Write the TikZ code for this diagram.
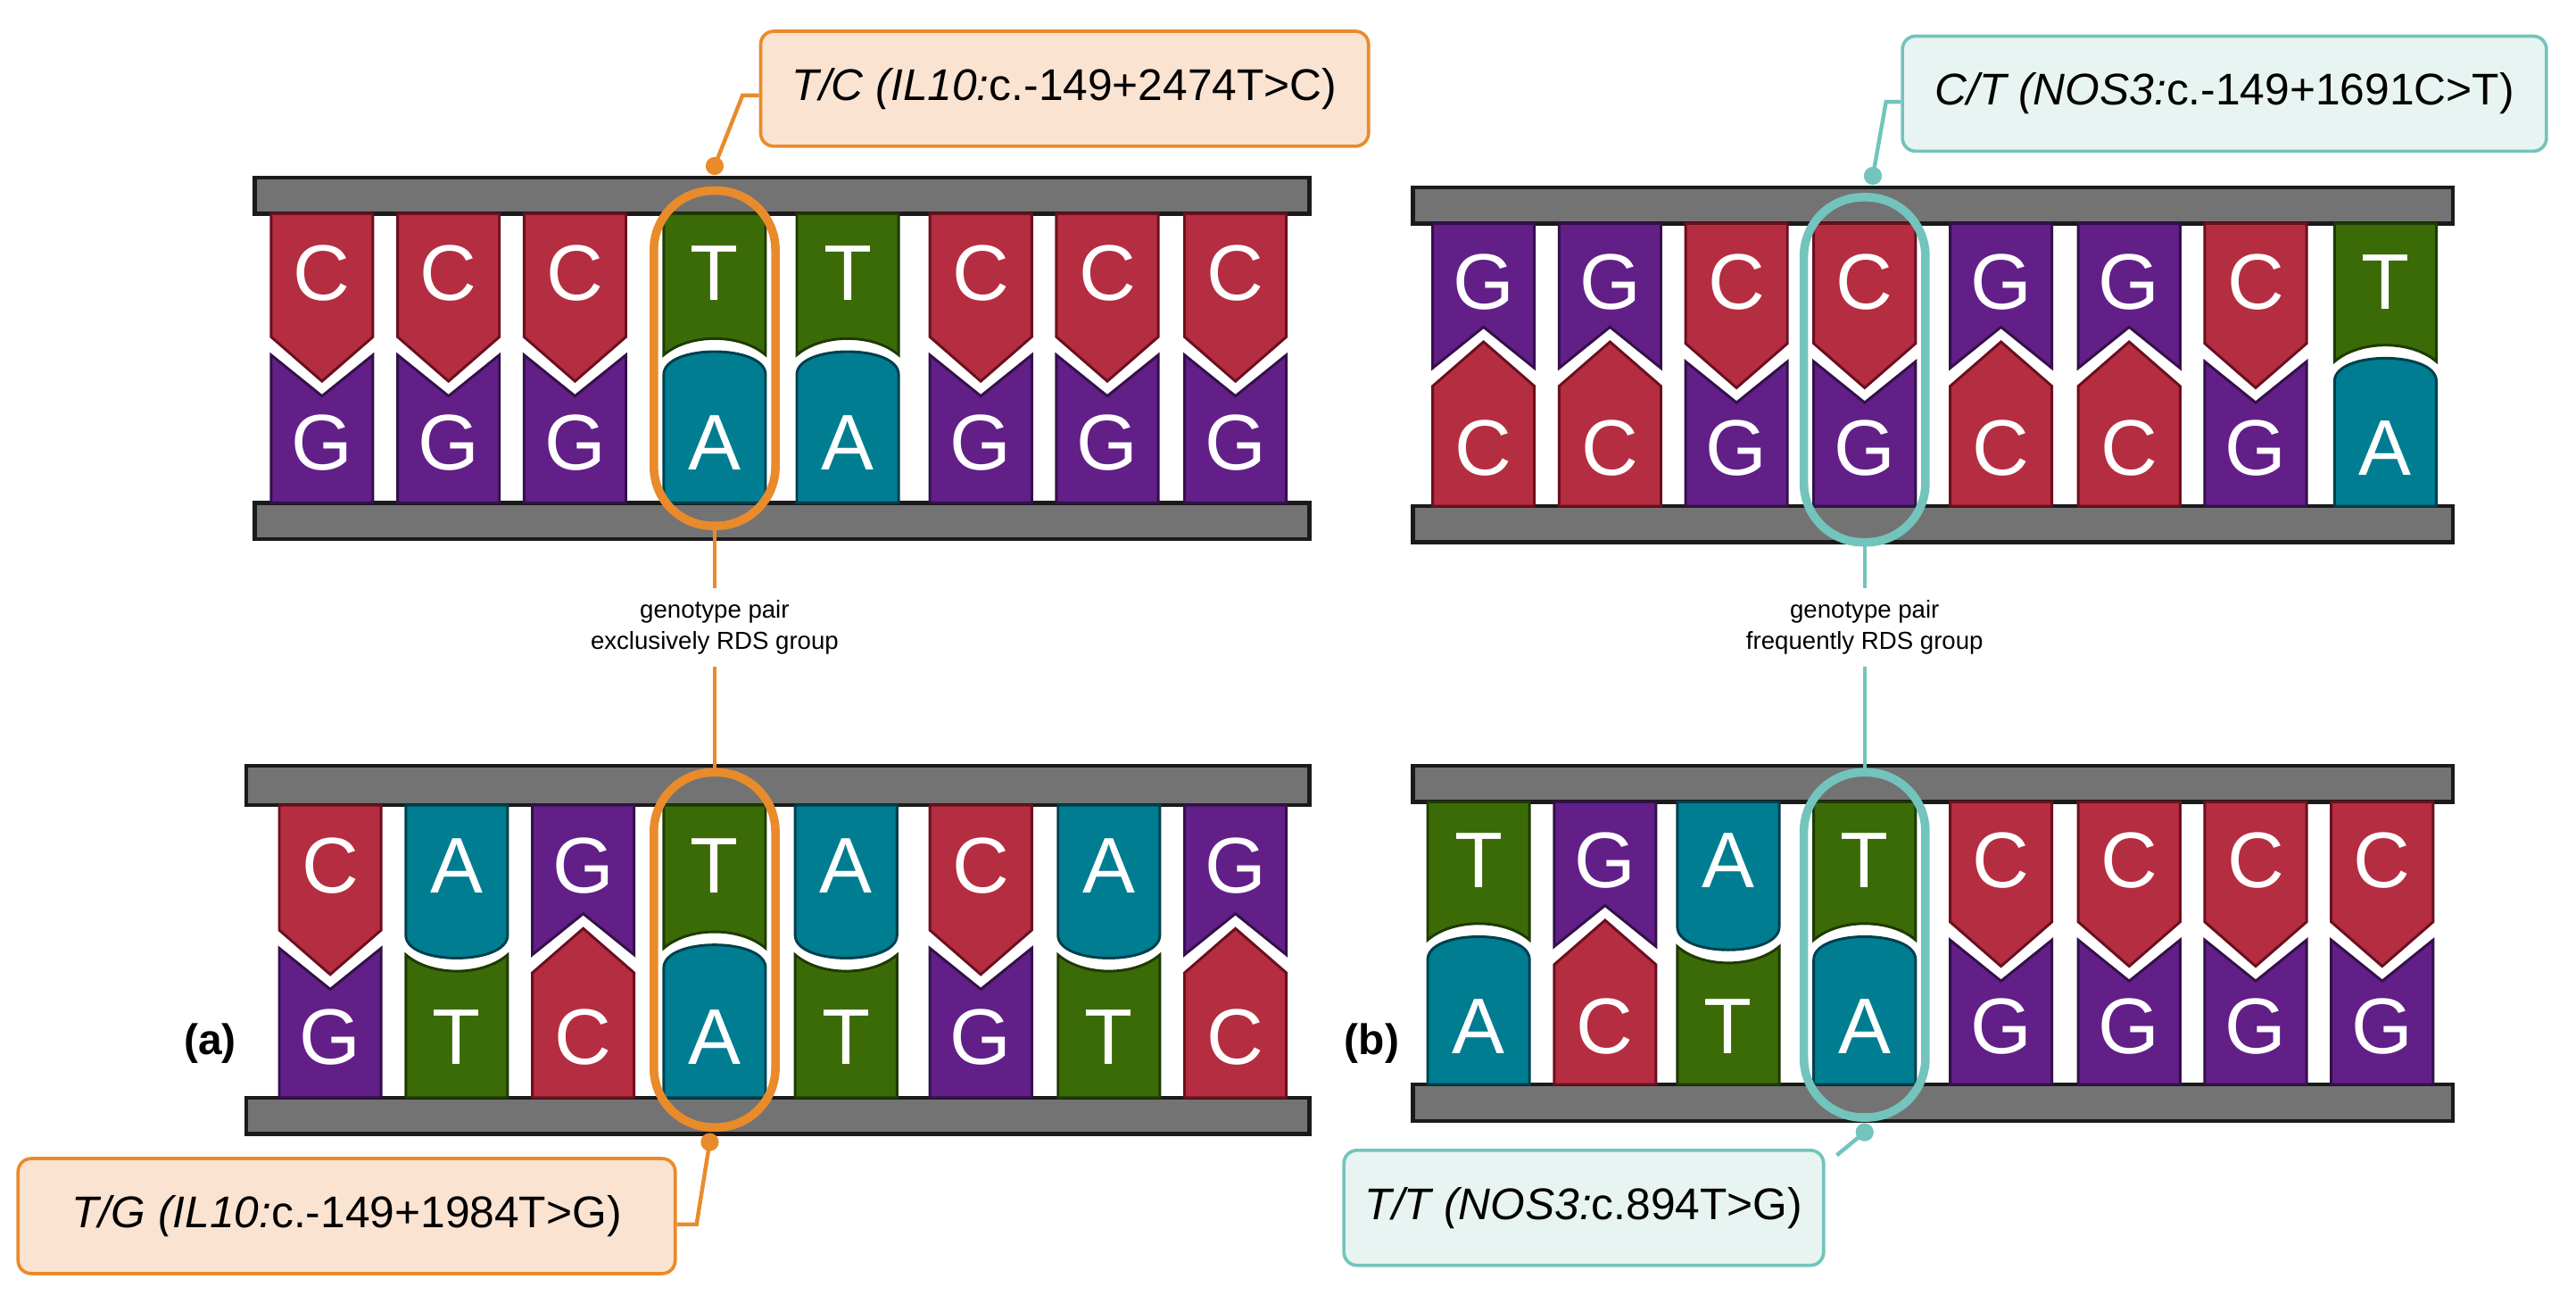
\documentclass[tikz,border=0pt]{standalone}
\usepackage{fontspec}
\setmainfont{Liberation Sans}
\begin{document}
\definecolor{fC}{HTML}{B52D40}\definecolor{dC}{HTML}{6B0F1E}
\definecolor{fG}{HTML}{621F87}\definecolor{dG}{HTML}{34104A}
\definecolor{fT}{HTML}{3B6B06}\definecolor{dT}{HTML}{1E3A03}
\definecolor{fA}{HTML}{007D91}\definecolor{dA}{HTML}{003F4D}
\definecolor{barf}{HTML}{737373}\definecolor{bard}{HTML}{1A1A1A}
\definecolor{orng}{HTML}{E98B2A}\definecolor{orngf}{HTML}{FBE3D2}
\definecolor{tl}{HTML}{72C4BC}\definecolor{tlf}{HTML}{E8F4F1}
\newcommand\bw{31}
\newcommand\shpC[4]{\fill[fC,draw=dC] ({#1-\bw},#2) -- ({#1-\bw},{#3-#4*13}) -- (#1,{#3+#4*14}) -- ({#1+\bw},{#3-#4*13}) -- ({#1+\bw},#2) -- cycle;}
\newcommand\shpG[4]{\fill[fG,draw=dG] ({#1-\bw},#2) -- ({#1-\bw},{#3+#4*2}) -- (#1,{#3-#4*23}) -- ({#1+\bw},{#3+#4*2}) -- ({#1+\bw},#2) -- cycle;}
\newcommand\shpT[4]{\fill[fT,draw=dT] ({#1-\bw},#2) -- ({#1-\bw},{#3-#4*2}) .. controls ({#1-\bw*0.5},{#3-#4*15.3}) and ({#1+\bw*0.5},{#3-#4*15.3}) .. ({#1+\bw},{#3-#4*2}) -- ({#1+\bw},#2) -- cycle;}
\newcommand\shpA[4]{\fill[fA,draw=dA] ({#1-\bw},#2) -- ({#1-\bw},{#3-#4*10}) .. controls ({#1-\bw},{#3+#4*8.7}) and ({#1+\bw},{#3+#4*8.7}) .. ({#1+\bw},{#3-#4*10}) -- ({#1+\bw},#2) -- cycle;}
\newcommand\bpair[6]{%
  \csname shp#5\endcsname{#1}{#2}{#4}{1}
  \csname shp#6\endcsname{#1}{#3}{#4}{-1}
  \node[blet] at (#1,{(#2+#4-15)/2}) {#5};
  \node[blet] at (#1,{(#3+#4+15)/2}) {#6};}
\begin{tikzpicture}[x=0.5pt,y=-0.5pt,line width=0.8pt,
  blet/.style={text=white,font=\fontsize{24}{24}\selectfont},
  bar/.style={fill=barf,draw=bard,line width=1.2pt},
  ring/.style={draw=#1,line width=2.6pt,rounded corners=18pt,minimum width=37pt},
  callout/.style={draw=#1,line width=1pt,rounded corners=4pt,minimum height=35pt,font=\fontsize{13.5}{13.5}\selectfont,inner xsep=4pt},
  lead/.style={draw=#1,line width=1.2pt},
  dot/.style={circle,fill=#1,inner sep=0pt,minimum size=5.5pt},
  small/.style={font=\fontsize{7.5}{9.5}\selectfont,align=center},
  lab/.style={font=\fontsize{13}{13}\selectfont\bfseries}]
\useasboundingbox (0,0) rectangle (1568,798);
\draw[bar] (155,108) rectangle (797,130);
\draw[bar] (155,306) rectangle (797,328);
\foreach \x/\t/\b in {196/C/G,273/C/G,350/C/G,435/T/A,516/T/A,597/C/G,674/C/G,752/C/G}{\bpair{\x}{130}{306}{218}{\t}{\b}}
\draw[bar] (150,466) rectangle (797,490);
\draw[bar] (150,668) rectangle (797,690);
\foreach \x/\t/\b in {201/C/G,278/A/T,355/G/C,435/T/A,515/A/T,597/C/G,675/A/T,752/G/C}{\bpair{\x}{490}{668}{579}{\t}{\b}}
\draw[bar] (860,114) rectangle (1493,136);
\draw[bar] (860,308) rectangle (1493,330);
\foreach \x/\t/\b in {903/G/C,980/G/C,1057/C/G,1135/C/G,1218/G/C,1296/G/C,1373/C/G,1452/T/A}{\bpair{\x}{136}{308}{222}{\t}{\b}}
\draw[bar] (860,466) rectangle (1493,488);
\draw[bar] (860,660) rectangle (1493,682);
\foreach \x/\t/\b in {900/T/A,977/G/C,1052/A/T,1135/T/A,1218/C/G,1296/C/G,1373/C/G,1450/C/G}{\bpair{\x}{488}{660}{574}{\t}{\b}}
\node[ring=orng,minimum height=102pt] (ra1) at (435,218) {};
\node[ring=orng,minimum height=108pt] (ra2) at (435,578) {};
\node[ring=tl,minimum height=105pt] (rb1) at (1135,225) {};
\node[ring=tl,minimum height=105pt] (rb2) at (1135,575) {};
\node[small] (ga) at (435,382) {genotype pair\\exclusively RDS group};
\node[small] (gb) at (1135,382) {genotype pair\\frequently RDS group};
\draw[lead=orng] (ra1.south) -- (ga.north);
\draw[lead=orng] (ga.south) -- (ra2.north);
\draw[lead=tl] (rb1.south) -- (gb.north);
\draw[lead=tl] (gb.south) -- (rb2.north);
\node[callout=orng,fill=orngf,minimum width=185pt] (ca1) at (648,54) {\textit{T/C (IL10:}c.-149+2474T>C)};
\node[callout=orng,fill=orngf,minimum width=200pt] (ca2) at (211,740) {\textit{T/G (IL10:}c.-149+1984T>G)};
\node[callout=tl,fill=tlf,minimum width=196pt] (cb1) at (1354,57) {\textit{C/T (NOS3:}c.-149+1691C>T)};
\node[callout=tl,fill=tlf,minimum width=146pt] (cb2) at (964,735) {\textit{T/T (NOS3:}c.894T>G)};
\node[dot=orng] (da1) at (435,101) {};
\node[dot=orng] (da2) at (432,695) {};
\node[dot=tl] (db1) at (1140,107) {};
\node[dot=tl] (db2) at (1135,689) {};
\coordinate (ka1) at (452,58);
\coordinate (ka2) at (424,745);
\coordinate (kb1) at (1148,62);
\coordinate (kb2) at (1118,703);
\draw[lead=orng] (da1.center) -- (ka1) -- (ca1.west |- ka1);
\draw[lead=orng] (da2.center) -- (ka2) -- (ca2.east |- ka2);
\draw[lead=tl] (db1.center) -- (kb1) -- (cb1.west |- kb1);
\draw[lead=tl] (db2.center) -- (kb2);
\node[lab] (la) at (128,635) {(a)};
\node[lab] (lb) at (835,635) {(b)};
\end{tikzpicture}
\end{document}
